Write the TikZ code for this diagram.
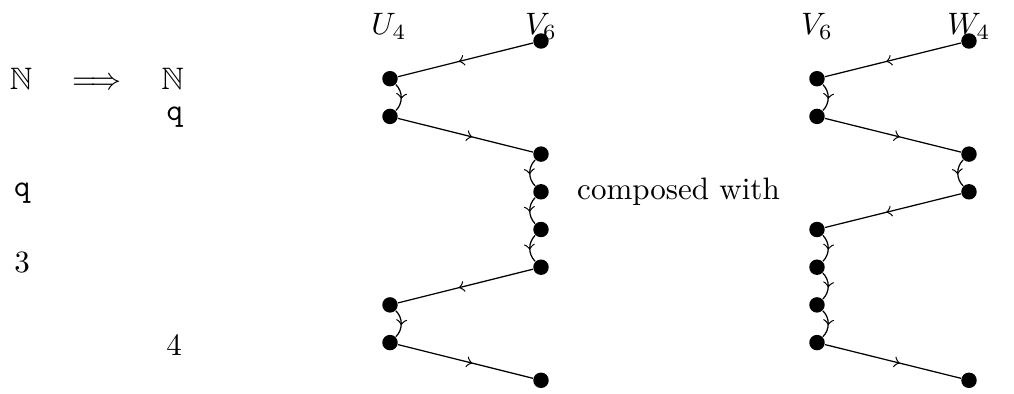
\documentclass[tikz,border=0pt]{standalone}
\usepackage{amssymb}
\usetikzlibrary{positioning, decorations.markings}

\begin{document}
\begin{tikzpicture}[x=0.3226pt, y=-0.3226pt, dot/.style={circle, fill=black, inner sep=0pt, minimum size=5pt}, mid/.style={postaction={decorate}, decoration={markings, mark=at position 0.55 with {\arrow{>}}}}, lbl/.style={anchor=base, inner sep=0pt}]
\useasboundingbox (0,0) rectangle (1014,394);
% left column of symbols
\node[lbl] (na) at (21,89.5) {$\mathbb{N}$};
\node[lbl] (impl) at (97,89.5) {$\Longrightarrow$};
\node[lbl] (nb) at (172.5,89.5) {$\mathbb{N}$};
\node[lbl] (qa) at (175,120.5) {\texttt{q}};
\node[lbl] (qb) at (22.5,196.5) {\texttt{q}};
\node[lbl] (three) at (22,272) {3};
\node[lbl] (four) at (174,356) {4};
% first zigzag: U_4 and V_6
\node[lbl] (lu) at (389,35) {$U_4$};
\node[lbl] (lv) at (541,35) {$V_6$};
\node[dot] (u1) at (390,78.7) {}; \node[dot] (u2) at (390,116.4) {};
\node[dot] (u3) at (390,304.9) {}; \node[dot] (u4) at (390,342.6) {};
\node[dot] (v1) at (541,41) {}; \node[dot] (v2) at (541,154.1) {};
\node[dot] (v3) at (541,191.8) {}; \node[dot] (v4) at (541,229.5) {};
\node[dot] (v5) at (541,267.2) {}; \node[dot] (v6) at (541,380.3) {};
\draw[mid] (v1) -- (u1); \draw[mid] (u1) to[bend left=45] (u2);
\draw[mid] (u2) -- (v2); \draw[mid] (v2) to[bend right=45] (v3);
\draw[mid] (v3) to[bend right=45] (v4); \draw[mid] (v4) to[bend right=45] (v5);
\draw[mid] (v5) -- (u3); \draw[mid] (u3) to[bend left=45] (u4);
\draw[mid] (u4) -- (v6);
\node[lbl] (comp) at (678.5,199) {composed with};
% second zigzag: V_6 and W_4
\node[lbl] (rv) at (817,35) {$V_6$};
\node[lbl] (rw) at (969,35) {$W_4$};
\node[dot] (x1) at (817,78.7) {}; \node[dot] (x2) at (817,116.4) {};
\node[dot] (x3) at (817,229.5) {}; \node[dot] (x4) at (817,267.2) {};
\node[dot] (x5) at (817,304.9) {}; \node[dot] (x6) at (817,342.6) {};
\node[dot] (w1) at (969,41) {}; \node[dot] (w2) at (969,154.1) {};
\node[dot] (w3) at (969,191.8) {}; \node[dot] (w4) at (969,380.3) {};
\draw[mid] (w1) -- (x1); \draw[mid] (x1) to[bend left=45] (x2);
\draw[mid] (x2) -- (w2); \draw[mid] (w2) to[bend right=45] (w3);
\draw[mid] (w3) -- (x3); \draw[mid] (x3) to[bend left=45] (x4);
\draw[mid] (x4) to[bend left=45] (x5); \draw[mid] (x5) to[bend left=45] (x6);
\draw[mid] (x6) -- (w4);
\end{tikzpicture}
\end{document}
